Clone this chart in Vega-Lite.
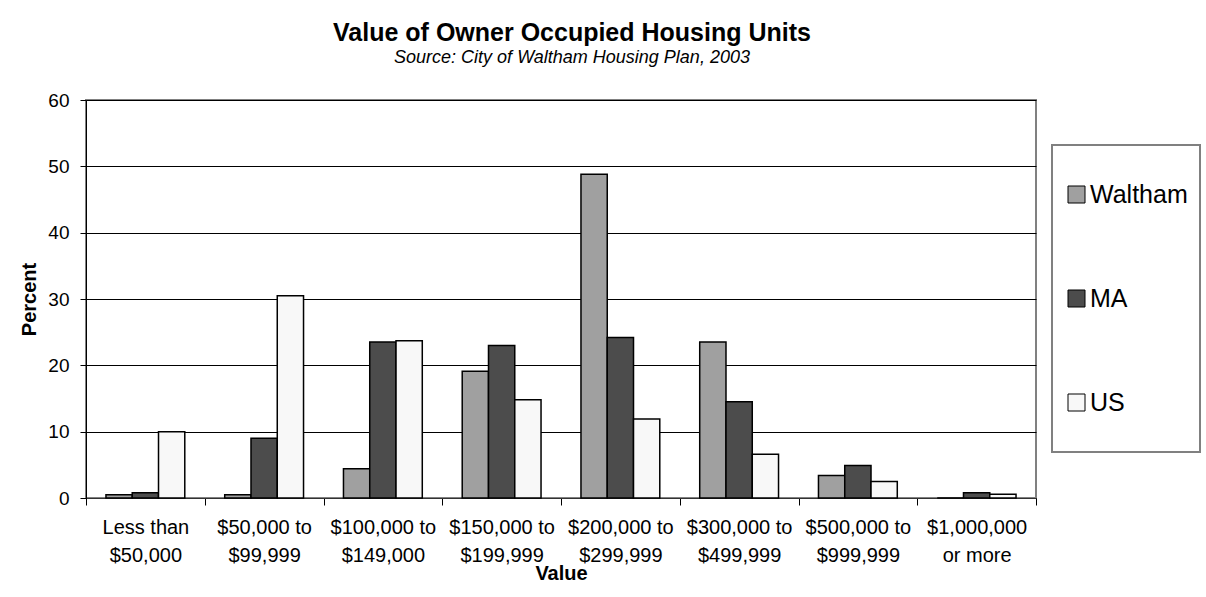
{
  "$schema": "https://vega.github.io/schema/vega-lite/v6.json",
  "width": 950,
  "height": 398,
  "autosize": {"type": "none"},
  "padding": {"left": 86, "top": 100, "right": 170, "bottom": 99},
  "background": "white",
  "title": {
    "text": "Value of Owner Occupied Housing Units",
    "subtitle": "Source: City of Waltham Housing Plan, 2003",
    "font": "Liberation Sans",
    "fontSize": 25,
    "fontWeight": "bold",
    "color": "black",
    "subtitleFont": "Liberation Sans",
    "subtitleFontSize": 18,
    "subtitleFontStyle": "italic",
    "subtitleColor": "black",
    "subtitlePadding": 3,
    "anchor": "middle",
    "dx": 11,
    "offset": 24
  },
  "data": {
    "values": [
      {"range": "Less than|$50,000", "area": "Waltham", "percent": 0.5},
      {"range": "Less than|$50,000", "area": "MA", "percent": 0.8},
      {"range": "Less than|$50,000", "area": "US", "percent": 10.0},
      {"range": "$50,000 to|$99,999", "area": "Waltham", "percent": 0.5},
      {"range": "$50,000 to|$99,999", "area": "MA", "percent": 9.0},
      {"range": "$50,000 to|$99,999", "area": "US", "percent": 30.5},
      {"range": "$100,000 to|$149,000", "area": "Waltham", "percent": 4.4},
      {"range": "$100,000 to|$149,000", "area": "MA", "percent": 23.5},
      {"range": "$100,000 to|$149,000", "area": "US", "percent": 23.7},
      {"range": "$150,000 to|$199,999", "area": "Waltham", "percent": 19.1},
      {"range": "$150,000 to|$199,999", "area": "MA", "percent": 23.0},
      {"range": "$150,000 to|$199,999", "area": "US", "percent": 14.8},
      {"range": "$200,000 to|$299,999", "area": "Waltham", "percent": 48.8},
      {"range": "$200,000 to|$299,999", "area": "MA", "percent": 24.2},
      {"range": "$200,000 to|$299,999", "area": "US", "percent": 11.9},
      {"range": "$300,000 to|$499,999", "area": "Waltham", "percent": 23.5},
      {"range": "$300,000 to|$499,999", "area": "MA", "percent": 14.5},
      {"range": "$300,000 to|$499,999", "area": "US", "percent": 6.6},
      {"range": "$500,000 to|$999,999", "area": "Waltham", "percent": 3.4},
      {"range": "$500,000 to|$999,999", "area": "MA", "percent": 4.9},
      {"range": "$500,000 to|$999,999", "area": "US", "percent": 2.5},
      {"range": "$1,000,000|or more", "area": "Waltham", "percent": 0},
      {"range": "$1,000,000|or more", "area": "MA", "percent": 0.8},
      {"range": "$1,000,000|or more", "area": "US", "percent": 0.55}
    ]
  },
  "mark": {"type": "bar", "stroke": "black", "strokeWidth": 1.5},
  "encoding": {
    "x": {
      "field": "range",
      "type": "nominal",
      "sort": ["Less than|$50,000", "$50,000 to|$99,999", "$100,000 to|$149,000", "$150,000 to|$199,999", "$200,000 to|$299,999", "$300,000 to|$499,999", "$500,000 to|$999,999", "$1,000,000|or more"],
      "scale": {"paddingInner": 0, "paddingOuter": 0},
      "axis": {
        "title": "Value",
        "titleFont": "Liberation Sans",
        "titleFontSize": 20,
        "titleFontWeight": "bold",
        "titleColor": "black",
        "titleY": 81,
        "titleBaseline": "alphabetic",
        "labelExpr": "split(datum.label, '|')",
        "labelAngle": 0,
        "labelFont": "Liberation Sans",
        "labelFontSize": 20,
        "labelLineHeight": 28,
        "labelPadding": 12,
        "labelColor": "black",
        "tickBand": "extent",
        "tickSize": 7,
        "tickColor": "black",
        "domainColor": "#333333",
        "grid": false
      }
    },
    "xOffset": {
      "field": "area",
      "type": "nominal",
      "sort": ["Waltham", "MA", "US"],
      "scale": {"paddingInner": 0, "paddingOuter": 0.76}
    },
    "y": {
      "field": "percent",
      "type": "quantitative",
      "scale": {"domain": [0, 60]},
      "axis": {
        "title": "Percent",
        "titleFont": "Liberation Sans",
        "titleFontSize": 20,
        "titleFontWeight": "bold",
        "titleColor": "black",
        "titlePadding": 8,
        "values": [0, 10, 20, 30, 40, 50, 60],
        "labelFont": "Liberation Sans",
        "labelFontSize": 19,
        "labelColor": "black",
        "labelPadding": 11,
        "tickSize": 6,
        "tickColor": "black",
        "domainColor": "black",
        "grid": true,
        "gridColor": "black",
        "gridWidth": 1
      }
    },
    "color": {
      "field": "area",
      "type": "nominal",
      "sort": ["Waltham", "MA", "US"],
      "scale": {"domain": ["Waltham", "MA", "US"], "range": ["#a0a0a0", "#4c4c4c", "#f8f8f8"]},
      "legend": {
        "title": null,
        "orient": "none",
        "legendX": 966,
        "legendY": 45,
        "direction": "vertical",
        "padding": 12,
        "clipHeight": 75,
        "rowPadding": 29,
        "symbolType": "square",
        "symbolSize": 289,
        "symbolStrokeColor": "black",
        "symbolStrokeWidth": 1,
        "symbolOffset": 0,
        "labelOffset": 1,
        "labelFont": "Liberation Sans",
        "labelFontSize": 25,
        "labelColor": "black",
        "strokeColor": "#808080",
        "fillColor": "white"
      }
    }
  },
  "config": {
    "font": "Liberation Sans",
    "view": {"stroke": "#808080", "strokeWidth": 2},
    "legend": {"strokeWidth": 2}
  }
}
